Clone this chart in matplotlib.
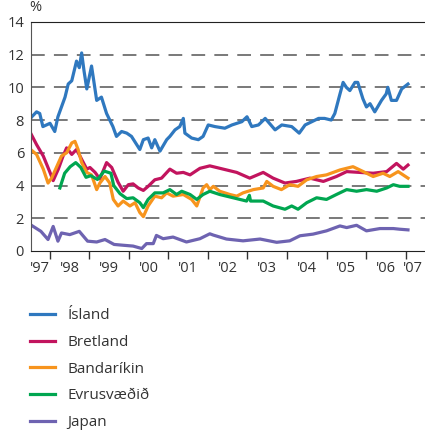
import numpy as np
import matplotlib
matplotlib.use("Agg")
import matplotlib.pyplot as plt

plt.rcParams['font.family'] = ['Open Sans', 'DejaVu Sans']

# Series (decimal year, %)
island_t = [1997.52, 1997.55, 1997.67, 1997.75, 1997.83, 1998.01, 1998.13, 1998.21, 1998.30,
            1998.39, 1998.47, 1998.56, 1998.68, 1998.75, 1998.81, 1998.87, 1998.94, 1999.06,
            1999.19, 1999.31, 1999.44, 1999.60, 1999.69, 1999.82, 1999.95, 2000.07, 2000.28,
            2000.37, 2000.49, 2000.58, 2000.66, 2000.79, 2000.96, 2001.04, 2001.17, 2001.29,
            2001.38, 2001.42, 2001.59, 2001.76, 2001.88, 2002.01, 2002.18, 2002.43, 2002.61,
            2002.86, 2002.99, 2003.11, 2003.28, 2003.45, 2003.70, 2003.87, 2004.12, 2004.31,
            2004.46, 2004.63, 2004.80, 2004.95, 2005.12, 2005.21, 2005.33, 2005.42, 2005.50,
            2005.59, 2005.72, 2005.79, 2005.92, 2006.01, 2006.10, 2006.22, 2006.39, 2006.51,
            2006.55, 2006.64, 2006.77, 2006.90, 2007.06]
island_v = [8.1, 8.2, 8.5, 8.4, 7.6, 7.8, 7.3, 8.2, 8.8,
            9.4, 10.2, 10.4, 11.6, 11.2, 12.1, 11.0, 9.9, 11.3,
            9.2, 9.4, 8.4, 7.6, 7.0, 7.3, 7.2, 7.0, 6.2,
            6.8, 6.9, 6.3, 6.8, 6.1, 6.8, 7.0, 7.4, 7.6,
            8.1, 7.2, 6.9, 6.8, 7.0, 7.7, 7.6, 7.5, 7.7,
            7.9, 8.2, 7.6, 7.7, 8.1, 7.4, 7.7, 7.6, 7.2,
            7.7, 7.9, 8.1, 8.1, 8.0, 8.4, 9.5, 10.3, 10.0,
            9.8, 10.3, 10.3, 9.3, 8.8, 9.0, 8.5, 9.2, 9.6,
            10.0, 9.2, 9.2, 9.9, 10.2]

bretland_t = [1997.52, 1997.67, 1997.84, 1998.01, 1998.09, 1998.22, 1998.34, 1998.43, 1998.56,
              1998.68, 1998.81, 1998.94, 1999.02, 1999.15, 1999.27, 1999.44, 1999.57, 1999.73,
              1999.86, 1999.99, 2000.11, 2000.24, 2000.37, 2000.49, 2000.66, 2000.83, 2001.04,
              2001.21, 2001.38, 2001.55, 2001.80, 2002.05, 2002.39, 2002.73, 2003.06, 2003.40,
              2003.65, 2003.95, 2004.24, 2004.58, 2004.92, 2005.25, 2005.51, 2005.84, 2006.18,
              2006.52, 2006.77, 2006.94, 2007.06]
bretland_v = [7.2, 6.5, 5.8, 4.8, 4.3, 5.0, 5.8, 6.3, 5.9,
              6.2, 5.6, 5.0, 5.1, 4.8, 4.4, 5.4, 5.1, 4.2,
              3.65, 4.05, 4.1, 3.85, 3.7, 3.95, 4.35, 4.45, 5.0,
              4.75, 4.8, 4.65, 5.05, 5.2, 5.0, 4.8, 4.45, 4.8,
              4.45, 4.15, 4.25, 4.45, 4.25, 4.55, 4.85, 4.8, 4.75,
              4.85, 5.35, 5.0, 5.25]

bandarikin_t = [1997.52, 1997.67, 1997.84, 1997.96, 1998.05, 1998.18, 1998.30, 1998.43, 1998.56,
                1998.64, 1998.72, 1998.81, 1998.94, 1999.06, 1999.19, 1999.27, 1999.40, 1999.52,
                1999.61, 1999.73, 1999.86, 2000.03, 2000.16, 2000.28, 2000.37, 2000.49, 2000.66,
                2000.83, 2000.96, 2001.12, 2001.38, 2001.59, 2001.72, 2001.88, 2001.97, 2002.05,
                2002.14, 2002.30, 2002.56, 2002.73, 2002.89, 2003.15, 2003.40, 2003.49, 2003.65,
                2003.86, 2004.07, 2004.28, 2004.50, 2004.75, 2005.00, 2005.34, 2005.67, 2005.93,
                2006.18, 2006.43, 2006.60, 2006.81, 2007.06]
bandarikin_v = [6.2, 5.9, 5.0, 4.15, 4.45, 5.15, 5.8, 6.0, 6.6,
                6.7, 6.2, 5.4, 4.8, 4.65, 3.75, 4.15, 4.55, 4.15,
                3.15, 2.75, 3.05, 2.75, 2.95, 2.35, 2.1, 2.75, 3.35,
                3.25, 3.55, 3.35, 3.45, 3.15, 2.75, 3.85, 4.05, 3.75,
                3.95, 3.65, 3.45, 3.35, 3.55, 3.75, 3.85, 4.25, 3.95,
                3.75, 4.05, 3.95, 4.35, 4.55, 4.65, 4.95, 5.15, 4.85,
                4.55, 4.75, 4.55, 4.85, 4.45]

evru_t = [1998.26, 1998.38, 1998.52, 1998.66, 1998.79, 1998.92, 1999.04, 1999.21, 1999.38,
          1999.55, 1999.62, 1999.78, 1999.95, 2000.11, 2000.28, 2000.37, 2000.49, 2000.66,
          2000.87, 2001.04, 2001.21, 2001.34, 2001.55, 2001.72, 2001.88, 2002.05, 2002.30,
          2002.64, 2002.98, 2003.05, 2003.08, 2003.40, 2003.65, 2003.95, 2004.12, 2004.28,
          2004.50, 2004.75, 2005.00, 2005.25, 2005.51, 2005.76, 2006.01, 2006.27, 2006.52,
          2006.69, 2006.85, 2007.06]
evru_v = [3.85, 4.75, 5.15, 5.4, 5.1, 4.5, 4.6, 4.37, 4.88,
          4.75, 4.0, 3.5, 3.2, 3.25, 2.95, 2.65, 3.15, 3.55,
          3.55, 3.75, 3.45, 3.65, 3.45, 3.15, 3.45, 3.65, 3.45,
          3.25, 3.05, 3.4, 3.05, 3.05, 2.75, 2.55, 2.75, 2.55,
          2.95, 3.25, 3.15, 3.45, 3.75, 3.65, 3.75, 3.65, 3.85,
          4.05, 3.95, 3.95]

japan_t = [1997.52, 1997.78, 1997.96, 1998.09, 1998.21, 1998.30, 1998.51, 1998.75, 1998.96,
           1999.19, 1999.40, 1999.63, 1999.86, 2000.11, 2000.33, 2000.45, 2000.62, 2000.70,
           2000.87, 2001.12, 2001.46, 2001.80, 2002.05, 2002.14, 2002.47, 2002.89, 2003.32,
           2003.74, 2004.07, 2004.33, 2004.66, 2005.00, 2005.34, 2005.51, 2005.76, 2006.01,
           2006.35, 2006.69, 2006.85, 2007.06]
japan_v = [1.6, 1.2, 0.7, 1.5, 0.6, 1.1, 1.0, 1.2, 0.6,
           0.55, 0.7, 0.4, 0.35, 0.3, 0.15, 0.45, 0.45, 0.95,
           0.75, 0.85, 0.55, 0.75, 1.05, 0.97, 0.73, 0.62, 0.73,
           0.53, 0.62, 0.93, 1.03, 1.23, 1.53, 1.43, 1.57, 1.23,
           1.37, 1.37, 1.33, 1.29]

series = [
    ("Ísland", island_t, island_v, "#2f78bf"),
    ("Bretland", bretland_t, bretland_v, "#c2145e"),
    ("Bandaríkin", bandarikin_t, bandarikin_v, "#f7941d"),
    ("Evrusvæðið", evru_t, evru_v, "#00a650"),
    ("Japan", japan_t, japan_v, "#6e63b1"),
]

year_ticks = list(range(1998, 2008))
year_labels = ["'97", "'98", "'99", "'00", "'01", "'02", "'03", "'04", "'05", "'06", "'07"]
label_pos = [1997.76] + [y + 0.5 for y in range(1998, 2007)] + [2007.18]

fig = plt.figure(figsize=(4.25, 4.34), dpi=100)
ax = fig.add_axes([0.073, 0.4217, 0.927, 0.528])

for name, t, v, c in series:
    ax.plot(t, v, color=c, lw=2.3, label=name, solid_joinstyle='round')

ax.set_xlim(1997.53, 2007.49)
ax.set_ylim(0, 14)
ax.set_yticks(range(0, 15, 2))
for yv in range(2, 13, 2):
    ax.axhline(yv, color='#555555', lw=1.1, dashes=(9, 6), zorder=0)

ax.set_xticks(year_ticks)
ax.set_xticklabels([])
ax.set_xticks(label_pos, minor=True)
ax.set_xticklabels(year_labels, minor=True)
ax.tick_params(axis='x', which='major', length=6, width=1, color='#333333', direction='out')
ax.tick_params(axis='x', which='minor', length=0, pad=7, labelsize=10.5, labelcolor='#333333')
ax.tick_params(axis='y', length=0, pad=5, labelsize=10.5, labelcolor='#333333')

ax.spines['right'].set_visible(False)
ax.spines['top'].set_color('#222222')
ax.spines['bottom'].set_color('#222222')
ax.spines['left'].set_color('#555555')

fig.text(0.068, 0.965, "%", fontsize=10.5, color='#333333', ha='left', va='bottom')

ax.legend(loc='upper left', bbox_to_anchor=(0.039, 0.321), bbox_transform=fig.transFigure,
          frameon=False, fontsize=11, handlelength=1.64, handletextpad=0.8,
          labelspacing=0.76, labelcolor='#333333')

fig.savefig("out.png", dpi=100)
